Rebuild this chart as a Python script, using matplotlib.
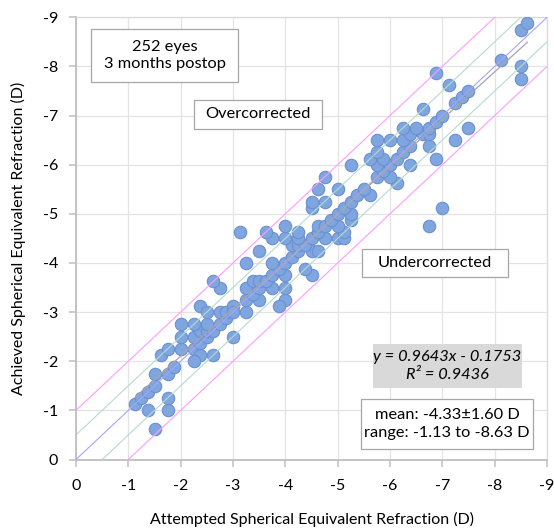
import numpy as np
import matplotlib.pyplot as plt
from matplotlib.patches import Rectangle

plt.rcParams['font.family'] = ['Lato', 'DejaVu Sans']

# attempted vs achieved spherical equivalent (D)
attempted = [
    -1.125, -1.25, -1.375, -1.5, -1.5, -1.75, -1.875, -1.625, -1.75, -2.0,
    -2.25, -2.375, -2.625, -2.25, -2.375, -2.0, -2.25, -2.5, -3.0, -2.375,
    -2.5, -2.625, -2.0, -2.25, -2.5, -2.75, -1.375, -1.75, -1.75, -1.5,
    -2.875, -2.375, -2.5, -2.75, -2.875, -3.0, -3.0, -3.25,
    -3.25, -3.5, -4.0, -3.875, -3.375,
    -3.25, -3.5, -3.75, -4.0, -2.75,
    -2.625, -3.375, -3.5, -3.625,
    -3.75, -4.0, -4.5, -3.875, -4.375,
    -3.25, -3.75, -4.0, -4.125,
    -3.5, -4.25, -4.5, -4.625, -4.125, -4.25, -4.375,
    -3.75, -4.0, -4.25, -4.5, -4.75, -5.0, -5.125,
    -3.125, -3.625, -4.25, -4.625, -5.125,
    -4.0, -4.625, -4.75, -5.0, -6.75,
    -4.875, -5.25, -5.0, -5.25,
    -4.5, -5.125, -7.0, -4.5, -4.75, -5.25,
    -5.375, -5.625, -4.625, -5.0, -5.5, -6.125,
    -4.75, -5.75, -6.0, -5.875,
    -5.25, -5.75, -6.0, -6.375,
    -5.625, -5.875, -6.125, -6.875,
    -5.75, -6.25, -6.375, -6.75,
    -5.75, -6.0, -6.25, -7.25,
    -6.375, -6.625, -6.75,
    -6.25, -6.5, -6.75, -7.5,
    -6.875, -7.0, -6.625, -7.25, -7.375, -7.5, -7.125,
    -8.5, -6.875, -8.5, -8.125, -8.5, -8.625,
]
achieved = [
    -1.125, -1.25, -1.375, -1.5, -1.75, -1.75, -1.875, -2.125, -2.25, -2.25,
    -2.25, -2.125, -2.125, -2.0, -2.375, -2.5, -2.5, -2.5, -2.5, -2.625,
    -2.625, -2.625, -2.75, -2.75, -2.75, -2.75, -1.0, -1.0, -1.25, -0.625,
    -2.875, -3.125, -3.0, -3.0, -3.0, -3.125, -3.0, -3.0,
    -3.25, -3.25, -3.25, -3.125, -3.375,
    -3.5, -3.5, -3.5, -3.5, -3.5,
    -3.625, -3.625, -3.625, -3.625,
    -3.75, -3.75, -3.75, -3.875, -3.875,
    -4.0, -4.0, -4.0, -4.125,
    -4.25, -4.25, -4.25, -4.25, -4.375, -4.375, -4.375,
    -4.5, -4.5, -4.5, -4.5, -4.5, -4.5, -4.5,
    -4.625, -4.625, -4.625, -4.625, -4.625,
    -4.75, -4.75, -4.75, -4.75, -4.75,
    -4.875, -4.875, -5.0, -5.0,
    -5.125, -5.125, -5.125, -5.25, -5.25, -5.25,
    -5.375, -5.375, -5.5, -5.5, -5.5, -5.625,
    -5.75, -5.75, -5.75, -5.875,
    -6.0, -6.0, -6.0, -6.0,
    -6.125, -6.125, -6.125, -6.125,
    -6.25, -6.25, -6.375, -6.375,
    -6.5, -6.5, -6.5, -6.5,
    -6.625, -6.625, -6.625,
    -6.75, -6.75, -6.75, -6.75,
    -6.875, -7.0, -7.125, -7.25, -7.375, -7.5, -7.625,
    -7.75, -7.875, -8.0, -8.125, -8.75, -8.875,
]

slope = 0.9643
intercept = -0.1753
r2 = 0.9436
ticks = [0, -1, -2, -3, -4, -5, -6, -7, -8, -9]

fig = plt.figure(figsize=(5.54, 5.30), dpi=100)
ax = fig.add_axes([76 / 554, 1 - 459.5 / 530, 471 / 554, 442.2 / 530])

ax.scatter(attempted, achieved, s=80, c='#80a6e0', edgecolors='#6b8fd2',
           linewidths=0.8, zorder=3)

# reference lines: y=x, +-0.5 D, +-1 D
xx = np.array([0, -9.5])
ax.plot(xx, xx, color='#a5a5ff', lw=0.8, zorder=4)
for off in (0.5, -0.5):
    ax.plot(xx, xx + off, color='#b3dccb', lw=0.8, zorder=4)
for off in (1.0, -1.0):
    ax.plot(xx, xx + off, color='#ff9cff', lw=0.8, zorder=4)

# trendline over the data range
tx = np.array([max(attempted), min(attempted)])
ax.plot(tx, slope * tx + intercept, color='#a6a6a6', lw=0.9, zorder=4)

ax.set_xlim(0, -9)
ax.set_ylim(0, -9)
ax.set_xticks(ticks)
ax.set_yticks(ticks)
ax.set_xticklabels([str(t) for t in ticks])
ax.set_yticklabels([str(t) for t in ticks])
ax.grid(True, color='#e4e4e4', lw=0.9, zorder=0)
ax.set_axisbelow(True)
for side in ('left', 'bottom'):
    ax.spines[side].set_color('#bfbfbf')
    ax.spines[side].set_linewidth(1.3)
for side in ('top', 'right'):
    ax.spines[side].set_color('#d9d9d9')
    ax.spines[side].set_linewidth(0.9)
ax.tick_params(axis='both', length=5, width=1.1, color='#bfbfbf',
               labelsize=11.5, labelcolor='#000000')
ax.tick_params(axis='x', pad=9)
ax.tick_params(axis='y', pad=8)

ax.set_xlabel('Attempted Spherical Equivalent Refraction (D)', fontsize=11.5,
              labelpad=14)
ax.set_ylabel('Achieved Spherical Equivalent Refraction (D)', fontsize=11.5,
              labelpad=12)


def text_box(x0, y0, x1, y1, text, face='white', edge='#a6a6a6', **kw):
    W, H = 554, 530
    fig.add_artist(Rectangle((x0 / W, 1 - y1 / H), (x1 - x0) / W, (y1 - y0) / H,
                             transform=fig.transFigure, facecolor=face,
                             edgecolor=edge, lw=0.9, zorder=5))
    fig.text((x0 + x1) / 2 / W, 1 - (y0 + y1) / 2 / H, text, ha='center',
             va='center', fontsize=11.8, linespacing=1.3, zorder=6, **kw)


text_box(91, 29, 238, 82, '252 eyes\n3 months postop')
text_box(194, 100, 322, 129, 'Overcorrected')
text_box(362, 249, 508, 277, 'Undercorrected')
text_box(373, 344, 522, 388,
         f'y = {slope}x - {abs(intercept)}\nR² = {r2}',
         face='#d9d9d9', edge='none', style='italic')
text_box(361, 399, 533, 449, 'mean: -4.33±1.60 D\nrange: -1.13 to -8.63 D')

fig.savefig('out.png', dpi=100)
